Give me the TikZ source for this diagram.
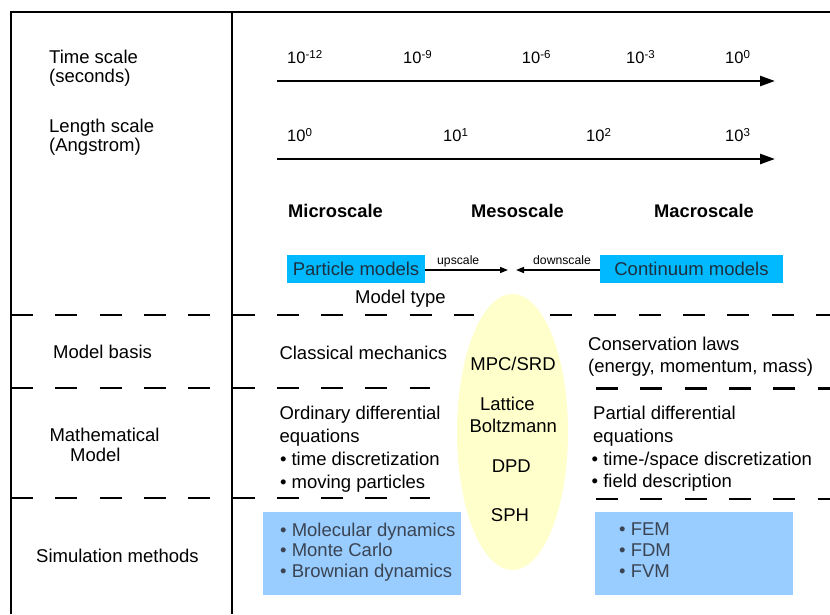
\documentclass[tikz,border=0pt]{standalone}
\usepackage{fontspec}
\setmainfont{Liberation Sans}
\usetikzlibrary{arrows.meta,shapes.geometric}
\definecolor{cyanbox}{RGB}{0,185,255}
\definecolor{lightbox}{RGB}{153,204,255}
\definecolor{ellfill}{RGB}{255,255,204}
\definecolor{boxtxt}{RGB}{28,48,64}
\definecolor{lbtxt}{RGB}{58,68,82}
\newcommand\pw[1]{10\raisebox{5pt}{\fontsize{11.5}{12}\selectfont #1}}
\begin{document}
\begin{tikzpicture}[x=1pt,y=-1pt,
  txt/.style={anchor=base west,inner sep=0pt,font=\fontsize{18.5}{22}\selectfont},
  ctxt/.style={anchor=base,inner sep=0pt,font=\fontsize{18.5}{22}\selectfont},
  num/.style={anchor=base west,inner sep=0pt,font=\fontsize{16.5}{20}\selectfont},
  bld/.style={anchor=base west,inner sep=0pt,font=\fontsize{18.3}{22}\selectfont\bfseries},
  small/.style={anchor=base west,inner sep=0pt,font=\fontsize{12.2}{14}\selectfont},
  frame/.style={line width=2pt},
  dash line/.style={line width=2.6pt,dash pattern=on 22pt off 22.3pt},
  bigarrow/.style={line width=2.5pt,-{Triangle[length=15pt,width=10pt]}},
  smallarrow/.style={line width=1.5pt,-{Triangle[length=8pt,width=6pt]}},
  modelbox/.style={fill=cyanbox,inner sep=0pt,text=boxtxt,font=\fontsize{18.5}{22}\selectfont,minimum height=28pt},
  methbox/.style={fill=lightbox,inner sep=0pt,minimum width=198pt,minimum height=83pt},
  meth/.style={anchor=base west,inner sep=0pt,text=lbtxt,font=\fontsize{18.5}{22}\selectfont}
]
\useasboundingbox (0,0) rectangle (830,614);

% frame
\draw[frame] (11,614) -- (11,12) -- (830,12);
\draw[frame] (231.7,12) -- (231.7,614);

% mesoscale ellipse
\node[ellipse,fill=ellfill,draw=none,minimum width=111pt,minimum height=276pt,inner sep=0pt] (ell) at (512.5,432) {};

% dashed separators
\draw[dash line] (11,315) -- (474,315);
\draw[dash line] (550,315) -- (830,315);
\draw[dash line] (11,388) -- (430,388);
\draw[dash line] (596,388.5) -- (830,388.5);
\draw[dash line] (11,498) -- (430,498);
\draw[dash line] (596,499) -- (830,499);

% left labels
\node[txt] (ts1) at (49,63.5) {Time scale};
\node[txt] (ts2) at (49,82.5) {(seconds)};
\node[txt] (ls1) at (49,132) {Length scale};
\node[txt] (ls2) at (49,151.5) {(Angstrom)};
\node[txt] (mb) at (53,358.3) {Model basis};
\node[txt] (mm1) at (49.3,441) {Mathematical};
\node[txt] (mm2) at (70,461) {Model};
\node[txt] (sm) at (36,562.3) {Simulation methods};

% time scale
\node[num] (t1) at (287,63.3) {\pw{-12}};
\node[num] (t2) at (403,63.3) {\pw{-9}};
\node[num] (t3) at (521.7,63.3) {\pw{-6}};
\node[num] (t4) at (626,63.3) {\pw{-3}};
\node[num] (t5) at (725,63.3) {\pw{0}};
\coordinate (ta1) at (277,81);
\coordinate (ta2) at (775,81);
\draw[bigarrow] (ta1) -- (ta2);

% length scale
\node[num] (l1) at (287,141.7) {\pw{0}};
\node[num] (l2) at (443,141.7) {\pw{1}};
\node[num] (l3) at (586,141.7) {\pw{2}};
\node[num] (l4) at (725,141.7) {\pw{3}};
\coordinate (la1) at (277,159);
\coordinate (la2) at (775,159);
\draw[bigarrow] (la1) -- (la2);

% scales
\node[bld] (micro) at (288,217) {Microscale};
\node[bld] (meso) at (471,217) {Mesoscale};
\node[bld] (macro) at (654,217) {Macroscale};

% model type
\node[modelbox,minimum width=138pt] (pm) at (356,269) {Particle models};
\node[modelbox,minimum width=183pt] (cm) at (691.5,269) {Continuum models};
\coordinate (upend) at (508,270);
\coordinate (dnend) at (516,270);
\draw[smallarrow] (pm.east |- upend) -- (upend);
\draw[smallarrow] (cm.west |- dnend) -- (dnend);
\node[small] (ups) at (437,264) {upscale};
\node[small] (dns) at (533,264) {downscale};
\node[txt] (mt) at (355,303) {Model type};

% model basis
\node[txt] (cmech) at (279.3,359.3) {Classical mechanics};
\node[txt] (cons1) at (588,350) {Conservation laws};
\node[txt] (cons2) at (588,372) {(energy, momentum, mass)};

% mathematical model
\node[txt] (ode1) at (279.3,419.5) {Ordinary differential};
\node[txt] (ode2) at (279.3,442.5) {equations};
\node[txt] (ode3) at (279.8,465.5) {• time discretization};
\node[txt] (ode4) at (279.8,488.5) {• moving particles};
\node[txt] (pde1) at (593,419) {Partial differential};
\node[txt] (pde2) at (593,442) {equations};
\node[txt] (pde3) at (591.5,465) {• time-/space discretization};
\node[txt] (pde4) at (591.5,487.5) {• field description};

% mesoscale methods
\node[ctxt] (mpc) at (513,370.7) {MPC/SRD};
\node[ctxt] (lat) at (507.3,410) {Lattice};
\node[ctxt] (bol) at (513.3,432.7) {Boltzmann};
\node[ctxt] (dpd) at (511.3,472.7) {DPD};
\node[ctxt] (sph) at (510,521.7) {SPH};

% simulation methods
\node[methbox] (pbox) at (362,553.5) {};
\node[methbox] (cbox) at (694,553.5) {};
\node[meth] (md) at (280,536) {• Molecular dynamics};
\node[meth] (mc) at (280,556.7) {• Monte Carlo};
\node[meth] (bd) at (280,577) {• Brownian dynamics};
\node[meth] (fem) at (619,535.5) {• FEM};
\node[meth] (fdm) at (619,556.5) {• FDM};
\node[meth] (fvm) at (619,577) {• FVM};
\end{tikzpicture}
\end{document}
